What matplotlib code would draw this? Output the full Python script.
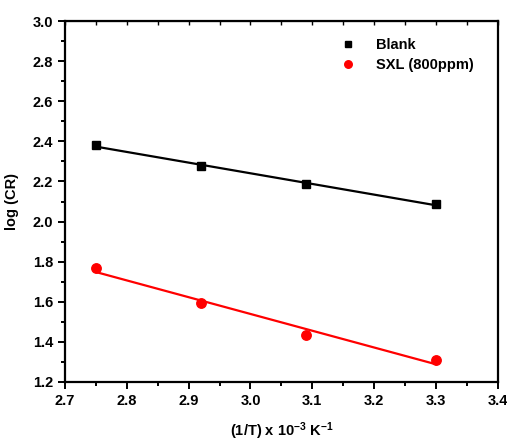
import numpy as np
import matplotlib
matplotlib.use('Agg')
import matplotlib.pyplot as plt
from matplotlib.ticker import MultipleLocator

plt.rcParams['font.family'] = ['Liberation Sans', 'DejaVu Sans']
plt.rcParams['font.weight'] = 'bold'
plt.rcParams['mathtext.fontset'] = 'custom'
plt.rcParams['mathtext.rm'] = 'Liberation Sans:bold'
plt.rcParams['mathtext.default'] = 'rm'

inv_T = np.array([2.75, 2.92, 3.09, 3.30])
blank = np.array([2.381, 2.277, 2.187, 2.087])
sxl = np.array([1.768, 1.594, 1.434, 1.310])

fig = plt.figure(figsize=(5.07, 4.41), dpi=100, facecolor='white')
ax = fig.add_axes([0.128, 0.134, 0.854, 0.818])

ax.plot(inv_T, blank, 's', color='black', ms=5.8, label='Blank')
ax.plot(inv_T, sxl, 'o', color='red', ms=6.8, label='SXL (800ppm)')

# linear fits
xf = np.array([inv_T.min(), inv_T.max()])
for y, c in [(blank, 'black'), (sxl, 'red')]:
    k, b = np.polyfit(inv_T, y, 1)
    ax.plot(xf, k * xf + b, '-', color=c, lw=1.6)

ax.set_xlim(2.7, 3.4)
ax.set_ylim(1.2, 3.0)
ax.xaxis.set_major_locator(MultipleLocator(0.1))
ax.xaxis.set_minor_locator(MultipleLocator(0.05))
ax.yaxis.set_major_locator(MultipleLocator(0.2))
ax.yaxis.set_minor_locator(MultipleLocator(0.1))

for s in ax.spines.values():
    s.set_linewidth(1.6)

ax.tick_params(which='both', direction='out', labelsize=10.5, width=1.4)
ax.tick_params(which='major', length=5)
ax.tick_params(which='minor', length=3)
ax.tick_params(which='both', top=False, right=False)
top = ax.secondary_xaxis('top')
top.tick_params(which='both', direction='in', labeltop=False, length=3, width=1.0)
top.xaxis.set_minor_locator(MultipleLocator(0.05))

ax.set_xlabel('(1/T) x 10$^{-3}$ K$^{-1}$', fontsize=10.5, fontweight='bold', labelpad=9)
ax.set_ylabel('log (CR)', fontsize=10.5, fontweight='bold', labelpad=10)

ax.legend(loc='upper right', frameon=False, fontsize=10.5,
          handletextpad=0.9, borderaxespad=0.5, bbox_to_anchor=(0.975, 0.99), markerscale=0.8,
          labelspacing=0.45)

fig.savefig('out.png', dpi=100, facecolor='white')
